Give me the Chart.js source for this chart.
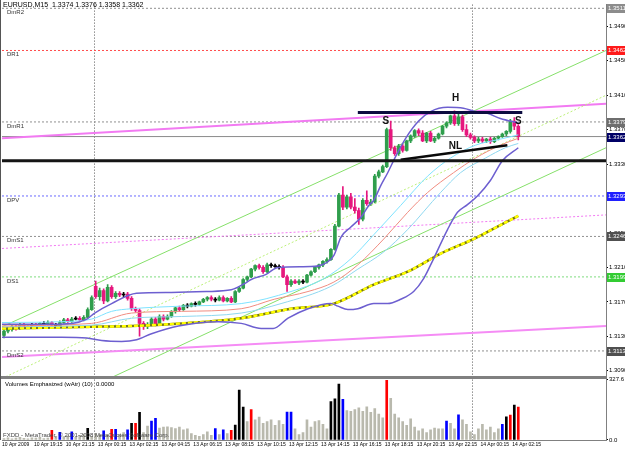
<!DOCTYPE html>
<html>
<head>
<meta charset="utf-8">
<title>EURUSD,M15</title>
<script src="https://cdn.jsdelivr.net/npm/chart.js@4.4.1/dist/chart.umd.min.js"></script>
<style>
  html, body { margin: 0; padding: 0; background: #fff; }
  #wrap { width: 625px; height: 451px; }
</style>
</head>
<body>
<div id="wrap"><canvas id="chart" width="625" height="451"></canvas></div>
<script>
const SYMBOL = 'EURUSD,M15';
const FONT = '"Liberation Sans", Arial, sans-serif';
const X_MIN = -0.5;
const X_MAX = 151;

// time axis: one label every 8 bars
const labelBars = [0, 8, 16, 24, 32, 40, 48, 56, 64, 72, 80, 88, 96, 104, 112, 120, 128];
const timeLabels = ['10 Apr 2009', '10 Apr 19:15', '10 Apr 21:15', '13 Apr 00:15', '13 Apr 02:15',
  '13 Apr 04:15', '13 Apr 06:15', '13 Apr 08:15', '13 Apr 10:15', '13 Apr 12:15', '13 Apr 14:15',
  '13 Apr 16:15', '13 Apr 18:15', '13 Apr 20:15', '13 Apr 22:15', '14 Apr 00:15', '14 Apr 02:15'];
const daySeparators = [22.6, 117.5];

const priceTicks = [1.3090, 1.3110, 1.3130, 1.3150, 1.3170, 1.3190, 1.3210, 1.3230, 1.3250, 1.3270, 1.3290,
  1.3310, 1.3330, 1.3350, 1.3370, 1.3390, 1.3410, 1.3430, 1.3450, 1.3470, 1.3490, 1.3510];
const volumeTicks = [0, 327.6];

// candles (M15)
const openP = [
  1.3131, 1.3136, 1.3138, 1.3141, 1.3139, 1.3143, 1.3140, 1.3142, 1.3143, 1.3141,
  1.3145, 1.3144, 1.3146, 1.3143, 1.3142, 1.3146, 1.3149, 1.3147, 1.3150, 1.3151,
  1.3149, 1.3152, 1.3161, 1.3188, 1.3176, 1.3183, 1.3171, 1.3187, 1.3176, 1.3180,
  1.3178, 1.3179, 1.3174, 1.3162, 1.3160, 1.3145, 1.3142, 1.3144, 1.3150, 1.3144,
  1.3153, 1.3150, 1.3153, 1.3159, 1.3163, 1.3161, 1.3166, 1.3165, 1.3168, 1.3167,
  1.3170, 1.3173, 1.3175, 1.3173, 1.3172, 1.3175, 1.3171, 1.3174, 1.3170, 1.3182,
  1.3186, 1.3196, 1.3199, 1.3208, 1.3212, 1.3210, 1.3205, 1.3213, 1.3212, 1.3211,
  1.3210, 1.3199, 1.3190, 1.3194, 1.3192, 1.3194, 1.3193, 1.3201, 1.3205, 1.3210,
  1.3213, 1.3217, 1.3219, 1.3231, 1.3258, 1.3294, 1.3280, 1.3292, 1.3280, 1.3276,
  1.3266, 1.3288, 1.3284, 1.3286, 1.3316, 1.3321, 1.3327, 1.3370, 1.3349, 1.3342,
  1.3351, 1.3346, 1.3357, 1.3363, 1.3369, 1.3366, 1.3357, 1.3366, 1.3357, 1.3360,
  1.3365, 1.3374, 1.3378, 1.3386, 1.3377, 1.3385, 1.3370, 1.3364, 1.3361, 1.3357,
  1.3359, 1.3357, 1.3359, 1.3356, 1.3360, 1.3362, 1.3365, 1.3368, 1.3380, 1.3374
];
const highP = [
  1.3138, 1.3140, 1.3143, 1.3143, 1.3145, 1.3145, 1.3144, 1.3145, 1.3145, 1.3146,
  1.3147, 1.3148, 1.3147, 1.3145, 1.3148, 1.3151, 1.3151, 1.3152, 1.3153, 1.3153,
  1.3154, 1.3163, 1.3177, 1.3194, 1.3186, 1.3185, 1.3190, 1.3189, 1.3182, 1.3182,
  1.3181, 1.3181, 1.3176, 1.3164, 1.3162, 1.3147, 1.3146, 1.3152, 1.3152, 1.3155,
  1.3155, 1.3155, 1.3160, 1.3164, 1.3165, 1.3167, 1.3168, 1.3169, 1.3170, 1.3171,
  1.3174, 1.3176, 1.3177, 1.3175, 1.3177, 1.3177, 1.3175, 1.3176, 1.3183, 1.3188,
  1.3197, 1.3200, 1.3209, 1.3213, 1.3214, 1.3212, 1.3215, 1.3215, 1.3214, 1.3213,
  1.3212, 1.3201, 1.3196, 1.3196, 1.3196, 1.3196, 1.3202, 1.3206, 1.3211, 1.3214,
  1.3218, 1.3221, 1.3232, 1.3260, 1.3296, 1.3304, 1.3294, 1.3296, 1.3290, 1.3279,
  1.3290, 1.3299, 1.3289, 1.3318, 1.3323, 1.3329, 1.3372, 1.3380, 1.3351, 1.3353,
  1.3353, 1.3358, 1.3364, 1.3370, 1.3371, 1.3369, 1.3367, 1.3368, 1.3362, 1.3366,
  1.3375, 1.3379, 1.3387, 1.3392, 1.3389, 1.3387, 1.3376, 1.3366, 1.3363, 1.3361,
  1.3361, 1.3360, 1.3361, 1.3361, 1.3363, 1.3366, 1.3369, 1.3382, 1.3384, 1.3376
];
const lowP = [
  1.3128, 1.3134, 1.3136, 1.3137, 1.3138, 1.3139, 1.3139, 1.3141, 1.3140, 1.3140,
  1.3143, 1.3143, 1.3141, 1.3140, 1.3141, 1.3145, 1.3146, 1.3146, 1.3149, 1.3148,
  1.3148, 1.3151, 1.3160, 1.3174, 1.3172, 1.3168, 1.3170, 1.3174, 1.3174, 1.3176,
  1.3176, 1.3172, 1.3160, 1.3158, 1.3130, 1.3138, 1.3139, 1.3142, 1.3142, 1.3143,
  1.3148, 1.3149, 1.3152, 1.3157, 1.3159, 1.3160, 1.3163, 1.3164, 1.3165, 1.3166,
  1.3169, 1.3171, 1.3171, 1.3170, 1.3171, 1.3170, 1.3170, 1.3169, 1.3169, 1.3181,
  1.3185, 1.3194, 1.3198, 1.3206, 1.3208, 1.3203, 1.3204, 1.3210, 1.3210, 1.3208,
  1.3198, 1.3182, 1.3188, 1.3191, 1.3190, 1.3191, 1.3192, 1.3200, 1.3204, 1.3208,
  1.3211, 1.3215, 1.3218, 1.3230, 1.3257, 1.3277, 1.3278, 1.3278, 1.3273, 1.3260,
  1.3264, 1.3282, 1.3282, 1.3285, 1.3314, 1.3320, 1.3326, 1.3346, 1.3340, 1.3340,
  1.3344, 1.3345, 1.3355, 1.3361, 1.3363, 1.3356, 1.3355, 1.3356, 1.3355, 1.3359,
  1.3364, 1.3372, 1.3376, 1.3375, 1.3375, 1.3368, 1.3362, 1.3359, 1.3355, 1.3355,
  1.3355, 1.3355, 1.3354, 1.3355, 1.3358, 1.3361, 1.3363, 1.3366, 1.3370, 1.3358
];
const closeP = [
  1.3136, 1.3138, 1.3141, 1.3139, 1.3143, 1.3140, 1.3142, 1.3143, 1.3141, 1.3145,
  1.3144, 1.3146, 1.3143, 1.3142, 1.3146, 1.3149, 1.3147, 1.3150, 1.3151, 1.3149,
  1.3152, 1.3161, 1.3175, 1.3176, 1.3183, 1.3171, 1.3187, 1.3176, 1.3180, 1.3178,
  1.3179, 1.3174, 1.3162, 1.3160, 1.3145, 1.3142, 1.3144, 1.3150, 1.3144, 1.3153,
  1.3150, 1.3153, 1.3159, 1.3163, 1.3161, 1.3166, 1.3165, 1.3168, 1.3167, 1.3170,
  1.3173, 1.3175, 1.3173, 1.3172, 1.3175, 1.3171, 1.3174, 1.3170, 1.3182, 1.3186,
  1.3196, 1.3199, 1.3208, 1.3212, 1.3210, 1.3205, 1.3213, 1.3212, 1.3211, 1.3210,
  1.3199, 1.3190, 1.3194, 1.3192, 1.3194, 1.3193, 1.3201, 1.3205, 1.3210, 1.3213,
  1.3217, 1.3219, 1.3231, 1.3258, 1.3294, 1.3280, 1.3292, 1.3280, 1.3276, 1.3266,
  1.3288, 1.3284, 1.3286, 1.3316, 1.3321, 1.3327, 1.3370, 1.3349, 1.3342, 1.3351,
  1.3346, 1.3357, 1.3363, 1.3369, 1.3366, 1.3357, 1.3366, 1.3357, 1.3360, 1.3365,
  1.3374, 1.3378, 1.3386, 1.3377, 1.3385, 1.3370, 1.3364, 1.3361, 1.3357, 1.3359,
  1.3357, 1.3359, 1.3356, 1.3360, 1.3362, 1.3365, 1.3368, 1.3380, 1.3374, 1.3362
];

// Volumes Emphasized: n = normal, b = blue, k = black, r = red
const volumes = [
  8, 12, 6, 10, 15, 9, 7, 12, 10, 14,
  8, 11, 53, 20, 41, 18, 22, 44, 15, 25,
  30, 64, 20, 35, 28, 50, 25, 58, 58, 30,
  40, 55, 90, 90, 150, 40, 76, 103, 117, 65,
  70, 72, 68, 62, 70, 55, 60, 35, 25, 20,
  30, 45, 25, 62, 30, 55, 35, 53, 81, 271,
  179, 100, 165, 110, 125, 90, 100, 110, 80, 105,
  85, 152, 152, 60, 30, 40, 110, 70, 100, 105,
  85, 60, 209, 223, 303, 221, 160, 155, 165, 175,
  155, 180, 150, 170, 140, 120, 324, 226, 140, 120,
  100, 80, 115, 70, 50, 60, 40, 55, 65, 60,
  60, 103, 90, 60, 136, 110, 85, 45, 30, 60,
  85, 55, 70, 40, 60, 85, 126, 135, 190, 179
];
const volumeKind = [
  'n', 'n', 'n', 'n', 'n', 'n', 'n', 'n', 'n', 'n',
  'n', 'n', 'r', 'n', 'b', 'n', 'n', 'b', 'n', 'n',
  'n', 'k', 'n', 'n', 'n', 'b', 'n', 'r', 'b', 'n',
  'n', 'b', 'k', 'r', 'k', 'n', 'n', 'b', 'b', 'n',
  'n', 'n', 'n', 'n', 'n', 'n', 'n', 'n', 'n', 'n',
  'n', 'n', 'n', 'b', 'n', 'b', 'n', 'r', 'k', 'k',
  'k', 'n', 'r', 'n', 'n', 'n', 'n', 'n', 'n', 'n',
  'n', 'b', 'b', 'n', 'n', 'n', 'n', 'n', 'n', 'n',
  'n', 'n', 'k', 'k', 'k', 'b', 'n', 'n', 'n', 'n',
  'n', 'n', 'n', 'n', 'n', 'n', 'r', 'n', 'n', 'n',
  'n', 'n', 'n', 'n', 'n', 'n', 'n', 'n', 'n', 'n',
  'n', 'b', 'n', 'n', 'b', 'n', 'n', 'n', 'n', 'n',
  'n', 'n', 'n', 'n', 'n', 'b', 'k', 'r', 'k', 'r'
];

// daily pivots
const pivotNames = ['DmR2', 'DR1', 'DmR1', 'DPV', 'DmS1', 'DS1', 'DmS2'];
const pivotLevels = [1.3511, 1.3462, 1.3379, 1.3293, 1.3246, 1.3199, 1.3113];
const bidPrice = 1.3362;

// indicator lines: [bar, price]
const bbUpper = [[-0.5, 1.3144], [9.5, 1.3144], [17, 1.3145], [20.75, 1.3150], [22.75, 1.3157], [27, 1.3168],
  [33.25, 1.3180], [42, 1.3181], [50.75, 1.3182], [57, 1.3184], [60.25, 1.3191], [62, 1.3196], [65.75, 1.3202],
  [68.75, 1.3210], [77, 1.3211], [80.25, 1.3214], [82.75, 1.3224], [84.5, 1.3245], [87, 1.3257], [89.5, 1.3268],
  [91.5, 1.3282], [92.75, 1.3288], [94.5, 1.3305], [96.25, 1.3320], [98.25, 1.3339], [100.75, 1.3360],
  [104, 1.3380], [107, 1.3391], [111.25, 1.3396], [115.25, 1.3395], [118.25, 1.3391], [121.25, 1.3389],
  [124.5, 1.3383], [129, 1.3378]];
const bbLower = [[-0.5, 1.3129], [14.5, 1.3129], [20.75, 1.3128], [24.5, 1.3125], [29.5, 1.3124], [33.25, 1.3126],
  [37, 1.3133], [43.75, 1.3142], [53.75, 1.3147], [59.5, 1.3145], [64.5, 1.3139], [67.5, 1.3139], [71.25, 1.3151],
  [76.25, 1.3162], [82, 1.3168], [83.75, 1.3165], [86.25, 1.3161], [88.75, 1.3162], [92.75, 1.3168],
  [96.25, 1.3168], [99.5, 1.3173], [102.75, 1.3182], [105.25, 1.3197], [107.75, 1.3220], [111.25, 1.3254],
  [113.75, 1.3274], [116.25, 1.3283], [118.75, 1.3293], [122, 1.3311], [125, 1.3334], [129, 1.3349]];
const maRed = [[-0.5, 1.3142], [22, 1.3145], [32, 1.3157], [44.5, 1.3159], [59.5, 1.3162], [67.75, 1.3173],
  [76.25, 1.3182], [82.75, 1.3193], [88.75, 1.3213], [95.25, 1.3243], [101.25, 1.3274], [106.25, 1.3297],
  [112.75, 1.3320], [118.25, 1.3337], [124.5, 1.3352], [129, 1.3360]];
const maCyan = [[-0.5, 1.3146], [14.5, 1.3147], [22, 1.3150], [27, 1.3159], [32, 1.3162], [44.5, 1.3165],
  [59.5, 1.3168], [72, 1.3182], [80.25, 1.3197], [87, 1.3220], [92.75, 1.3248], [99.5, 1.3282],
  [106.25, 1.3316], [112, 1.3337], [118.25, 1.3352], [124.5, 1.3359], [129, 1.3364]];
const maSky = [[-0.5, 1.3141], [22, 1.3143], [32, 1.3151], [44.5, 1.3153], [59.5, 1.3157], [69.5, 1.3168],
  [82, 1.3188], [88.75, 1.3208], [95.25, 1.3228], [101.25, 1.3254], [109.5, 1.3297], [114.5, 1.3320],
  [120.75, 1.3337], [125.75, 1.3349], [129, 1.3354]];
const maYellow = [[-0.5, 1.3139], [22, 1.3141], [32, 1.3142], [44.5, 1.3145], [59.5, 1.3151], [72, 1.3162],
  [82.75, 1.3168], [92.75, 1.3190], [101.25, 1.3205], [109.5, 1.3226], [117.75, 1.3243], [122, 1.3253],
  [129, 1.3270]];

// drawn objects
const channelUpper = [[-0.5, 1.3141], [151, 1.3462]];
const channelMiddle = [[-0.5, 1.3081], [151, 1.3410]];
const channelLower = [[-0.5, 1.3023], [151, 1.3349]];
const magentaTop = [[-0.5, 1.3360], [151, 1.3400]];
const magentaMid = [[-0.5, 1.3232], [151, 1.3271]];
const magentaLow = [[-0.5, 1.3106], [151, 1.3142]];
const supportLine = [[-0.5, 1.3334], [151, 1.3334]];
const headLine = [[88.75, 1.3390], [130, 1.3390]];
const neckLine = [[99.5, 1.3335], [126.25, 1.3352]];

const patternText = ['S', 'H', 'NL', 'S'];
const patternBar = [95.75, 113.25, 113.25, 129];
const patternPrice = [1.3380, 1.3406, 1.3351, 1.3380];

// ---- styles ----
const UP = '#2f9e4c';
const DOWN = '#e6177e';
const VOL_COLORS = { n: '#b9b9ad', b: '#0000ff', k: '#000000', r: '#ff0000' };
const PIVOT_LINE = { DmR2: '#909090', DR1: '#ff4d4d', DmR1: '#909090', DPV: '#6a6aff', DmS1: '#909090', DS1: '#7fdc7f', DmS2: '#909090' };
const PIVOT_BOX = { DmR2: '#8c8c8c', DR1: '#ff1a1a', DmR1: '#6e6e6e', DPV: '#2020ff', DmS1: '#505050', DS1: '#33cc33', DmS2: '#505050' };
const CLIP_MAIN = 0; // clip to the price pane

const pts = arr => arr.map(([x, y]) => ({ x, y }));

function lineSet(data, color, width, dash, order, smooth) {
  return {
    type: 'line',
    data: pts(data),
    borderColor: color,
    borderWidth: width,
    borderDash: dash || [],
    pointRadius: 0,
    tension: 0,
    cubicInterpolationMode: smooth ? 'monotone' : 'default',
    yAxisID: 'y',
    clip: CLIP_MAIN,
    order
  };
}

const bars = closeP.map((c, i) => i);
const candleColor = i => Math.abs(closeP[i] - openP[i]) < 0.00015 ? '#000' : (closeP[i] > openP[i] ? UP : DOWN);

const datasets = [];

pivotNames.forEach((n, k) => {
  datasets.push(lineSet([[X_MIN, pivotLevels[k]], [X_MAX, pivotLevels[k]]], PIVOT_LINE[n], 1, [2, 2], 60));
});
datasets.push(lineSet([[X_MIN, bidPrice], [X_MAX, bidPrice]], '#8a8a8a', 1, [], 59));

datasets.push(lineSet(channelUpper, '#86e06a', 1, [], 55));
datasets.push(lineSet(channelMiddle, '#bdf07a', 1, [2, 2], 55));
datasets.push(lineSet(channelLower, '#86e06a', 1, [], 55));
datasets.push(lineSet(magentaTop, '#f27af2', 2, [], 55));
datasets.push(lineSet(magentaMid, '#f27af2', 1, [2, 2], 55));
datasets.push(lineSet(magentaLow, '#f58cf5', 2, [], 55));

datasets.push({
  type: 'bar',
  data: bars.map(i => ({ x: i, y: [lowP[i], highP[i]] })),
  backgroundColor: bars.map(candleColor),
  barThickness: 1,
  grouped: false,
  yAxisID: 'y',
  clip: CLIP_MAIN,
  order: 40
});
datasets.push({
  type: 'bar',
  data: bars.map(i => ({ x: i, y: [openP[i], closeP[i]] })),
  backgroundColor: bars.map(candleColor),
  barThickness: 3,
  minBarLength: 1,
  grouped: false,
  yAxisID: 'y',
  clip: CLIP_MAIN,
  order: 39
});

datasets.push(lineSet(maYellow, '#7a7a10', 2.5, [], 30, true));
datasets.push(lineSet(maYellow, '#ffff00', 2.5, [4, 2], 29, true));
datasets.push(lineSet(maSky, '#8fd8f0', 1, [], 28, true));
datasets.push(lineSet(maCyan, '#7fe3ff', 1, [], 27, true));
datasets.push(lineSet(maRed, '#f08c80', 1, [], 26, true));
datasets.push(lineSet(bbUpper, '#6d5fd0', 1.5, [], 25, true));
datasets.push(lineSet(bbLower, '#6d5fd0', 1.5, [], 25, true));

datasets.push(lineSet(supportLine, '#151515', 3, [], 10));
datasets.push(lineSet(headLine, '#0c0c40', 3, [], 10));
datasets.push(lineSet(neckLine, '#0a0a0a', 2.5, [], 10));

datasets.push({
  type: 'bar',
  data: bars.map(i => ({ x: i, y: volumes[i] })),
  backgroundColor: bars.map(i => VOL_COLORS[volumeKind[i]]),
  barThickness: 2,
  grouped: false,
  yAxisID: 'yv',
  order: 5
});

const overlay = {
  id: 'overlay',
  beforeDatasetsDraw(chart) {
    const { ctx, chartArea: a, scales: { x } } = chart;
    ctx.save();
    ctx.strokeStyle = '#555';
    ctx.lineWidth = 1;
    ctx.setLineDash([1, 2]);
    daySeparators.forEach(b => {
      const px = Math.round(x.getPixelForValue(b)) + 0.5;
      ctx.beginPath();
      ctx.moveTo(px, a.top);
      ctx.lineTo(px, a.bottom);
      ctx.stroke();
    });
    ctx.restore();
  },
  afterDraw(chart) {
    const { ctx, chartArea: a, scales: { x, y, yv } } = chart;
    ctx.save();

    // frame + panel separator
    ctx.fillStyle = '#808080';
    ctx.fillRect(0, Math.round(y.bottom) - 1, a.right, 3);
    ctx.fillStyle = '#555';
    ctx.fillRect(0, 0, 1, a.bottom);

    // pivot names on the left
    ctx.fillStyle = '#333';
    ctx.font = '6px ' + FONT;
    ctx.textBaseline = 'top';
    ctx.textAlign = 'left';
    pivotNames.forEach((n, k) => {
      ctx.fillText(n, 7, y.getPixelForValue(pivotLevels[k]) + 1);
    });

    // price boxes on the axis
    const boxes = pivotNames.map((n, k) => [pivotLevels[k], PIVOT_BOX[n]]);
    boxes.push([bidPrice, '#000066']);
    ctx.font = '6px ' + FONT;
    ctx.textBaseline = 'middle';
    boxes.forEach(([v, col]) => {
      const py = Math.round(y.getPixelForValue(v));
      ctx.fillStyle = col;
      ctx.fillRect(a.right + 1, py - 4, 18, 9);
      ctx.fillStyle = '#fff';
      ctx.fillText(v.toFixed(4), a.right + 2, py + 0.5);
    });

    // head & shoulders marks
    ctx.fillStyle = '#111';
    ctx.font = 'bold 10px ' + FONT;
    ctx.textAlign = 'center';
    patternText.forEach((t, k) => {
      ctx.fillText(t, x.getPixelForValue(patternBar[k]), y.getPixelForValue(patternPrice[k]));
    });

    // captions
    const n = closeP.length - 1;
    ctx.textAlign = 'left';
    ctx.fillStyle = '#000';
    ctx.font = '7px ' + FONT;
    ctx.fillText(SYMBOL + '  ' + [openP[n], highP[n], lowP[n], closeP[n]].map(v => v.toFixed(4)).join(' '), 3, 5);
    ctx.font = '6px ' + FONT;
    ctx.fillText('Volumes Emphasized (wAtr) (10)  0.0000', 5, yv.top + 8);
    ctx.fillStyle = '#444';
    ctx.fillText('FXDD - MetaTrader, \u00a9 2001-2008 MetaQuotes Software Corp.', 3, a.bottom - 5);
    ctx.restore();
  }
};

new Chart(document.getElementById('chart'), {
  type: 'bar',
  data: { datasets },
  options: {
    responsive: false,
    animation: false,
    events: [],
    layout: { padding: 0 },
    plugins: { legend: { display: false }, tooltip: { enabled: false } },
    scales: {
      x: {
        type: 'linear',
        min: X_MIN,
        max: X_MAX,
        offset: false,
        grid: { display: false, drawTicks: false },
        border: { display: true, color: '#808080' },
        afterBuildTicks: s => { s.ticks = labelBars.map(b => ({ value: b - 0.5 })); },
        afterFit: s => { s.height = 11; },
        ticks: {
          autoSkip: false,
          maxRotation: 0,
          minRotation: 0,
          align: 'start',
          padding: 2,
          color: '#000',
          font: { family: FONT, size: 5 },
          callback: v => {
            const k = labelBars.indexOf(Math.round(v + 0.5));
            return k >= 0 ? timeLabels[k] : '';
          }
        }
      },
      y: {
        type: 'linear',
        position: 'right',
        stack: 'panes',
        stackWeight: 376,
        min: 1.30831,
        max: 1.35153,
        offset: false,
        grid: { display: true, drawOnChartArea: false, drawTicks: true, tickLength: 2, color: '#000' },
        border: { display: true, color: '#808080' },
        afterBuildTicks: s => { s.ticks = priceTicks.map(v => ({ value: v })); },
        afterFit: s => { s.width = 19; },
        ticks: {
          padding: 1,
          color: '#000',
          font: { family: FONT, size: 6 },
          callback: v => v.toFixed(4)
        }
      },
      yv: {
        type: 'linear',
        position: 'right',
        stack: 'panes',
        stackWeight: 64,
        min: 0,
        max: 343.7,
        offset: false,
        grid: { display: true, drawOnChartArea: false, drawTicks: true, tickLength: 2, color: '#000' },
        border: { display: true, color: '#808080' },
        afterBuildTicks: s => { s.ticks = volumeTicks.map(v => ({ value: v })); },
        afterFit: s => { s.width = 19; },
        ticks: {
          padding: 1,
          color: '#000',
          font: { family: FONT, size: 6 },
          callback: v => v.toFixed(1)
        }
      }
    }
  },
  plugins: [overlay]
});
</script>
</body>
</html>
